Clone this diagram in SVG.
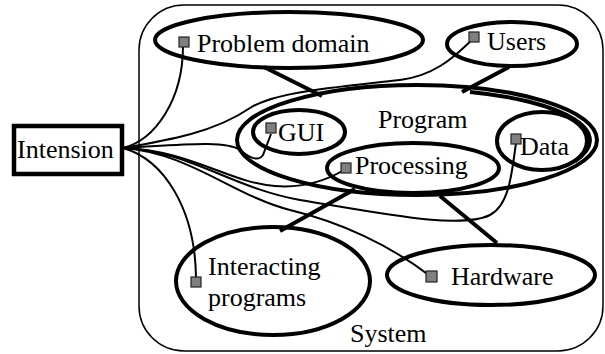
<svg xmlns="http://www.w3.org/2000/svg" width="605" height="354" viewBox="0 0 605 354">
<style>
text{font-family:"Liberation Serif","Times New Roman",serif;font-size:26px;fill:#000}
.n{fill:none;stroke:#000;stroke-width:4}
.c{fill:none;stroke:#000;stroke-width:2}
.t{fill:none;stroke:#000;stroke-width:4}
.sq{fill:#808080;stroke:#222;stroke-width:1.2}
</style>
<rect width="605" height="354" fill="#fff"/>
<g id="system">
<rect x="139" y="5" width="464" height="346" rx="45" ry="45" fill="none" stroke="#000" stroke-width="1.5"/>
<text x="350" y="342">System</text>
</g>
<g id="connectors">
<path class="t" d="M264,67 L322,96"/>
<path class="t" d="M509,67 L462,92"/>
<path class="t" d="M280,231 L355,189"/>
<path class="t" d="M440,196 L497,243"/>
<path class="c" d="M123,148 C155,140 183,100 183,46"/>
<path class="c" d="M123,148 C170,140 215,132 250,108 C275,92 330,88 400,80 C440,75 460,50 472,40"/>
<path class="c" d="M123,148 C180,145 225,140 240,150 C250,158 258,162 263,155 L271,134"/>
<path class="c" d="M123,148 C190,150 230,183 275,186 C300,188 322,183 344,170"/>
<path class="c" d="M123,148 C190,151 232,188 300,200 C380,213 460,230 490,215 C510,205 512,170 516,143"/>
<path class="c" d="M123,148 C190,153 232,195 290,210 C340,222 390,245 430,276"/>
<path class="c" d="M123,148 C165,160 195,210 196,277"/>
</g>
<g id="intension">
<rect x="14" y="126" width="108" height="48" fill="none" stroke="#000" stroke-width="4.5"/>
<text x="17" y="158">Intension</text>
</g>
<g id="problem-domain">
<ellipse class="n" cx="289" cy="40" rx="134" ry="28"/>
<rect class="sq" x="179" y="37" width="10" height="10"/>
<text x="197" y="52">Problem domain</text>
</g>
<g id="users">
<ellipse class="n" cx="512" cy="44" rx="65" ry="22"/>
<rect class="sq" x="469" y="32" width="10" height="10"/>
<text x="487" y="50">Users</text>
</g>
<g id="program">
<ellipse class="n" cx="417" cy="140" rx="180" ry="55"/>
<path class="n" d="M470,92 A175,51 0 0 1 575,161"/>
<text x="378" y="128">Program</text>
</g>
<g id="gui">
<ellipse class="n" cx="299" cy="132" rx="46" ry="22"/>
<rect class="sq" x="266" y="123" width="10" height="10"/>
<text x="278" y="141">GUI</text>
</g>
<g id="processing">
<ellipse class="n" cx="413" cy="168" rx="86" ry="25"/>
<rect class="sq" x="341" y="163" width="10" height="10"/>
<text x="355" y="174">Processing</text>
</g>
<g id="data">
<ellipse class="n" cx="542" cy="141" rx="45" ry="29"/>
<rect class="sq" x="511" y="134" width="10" height="10"/>
<text x="520" y="155">Data</text>
</g>
<g id="interacting-programs">
<ellipse class="n" cx="273" cy="281" rx="97" ry="54"/>
<rect class="sq" x="191" y="277" width="10" height="10"/>
<text x="208" y="275">Interacting</text>
<text x="208" y="306">programs</text>
</g>
<g id="hardware">
<ellipse class="n" cx="491" cy="275" rx="104" ry="30"/>
<rect class="sq" x="426" y="271" width="11" height="11"/>
<text x="451" y="285">Hardware</text>
</g>
</svg>
